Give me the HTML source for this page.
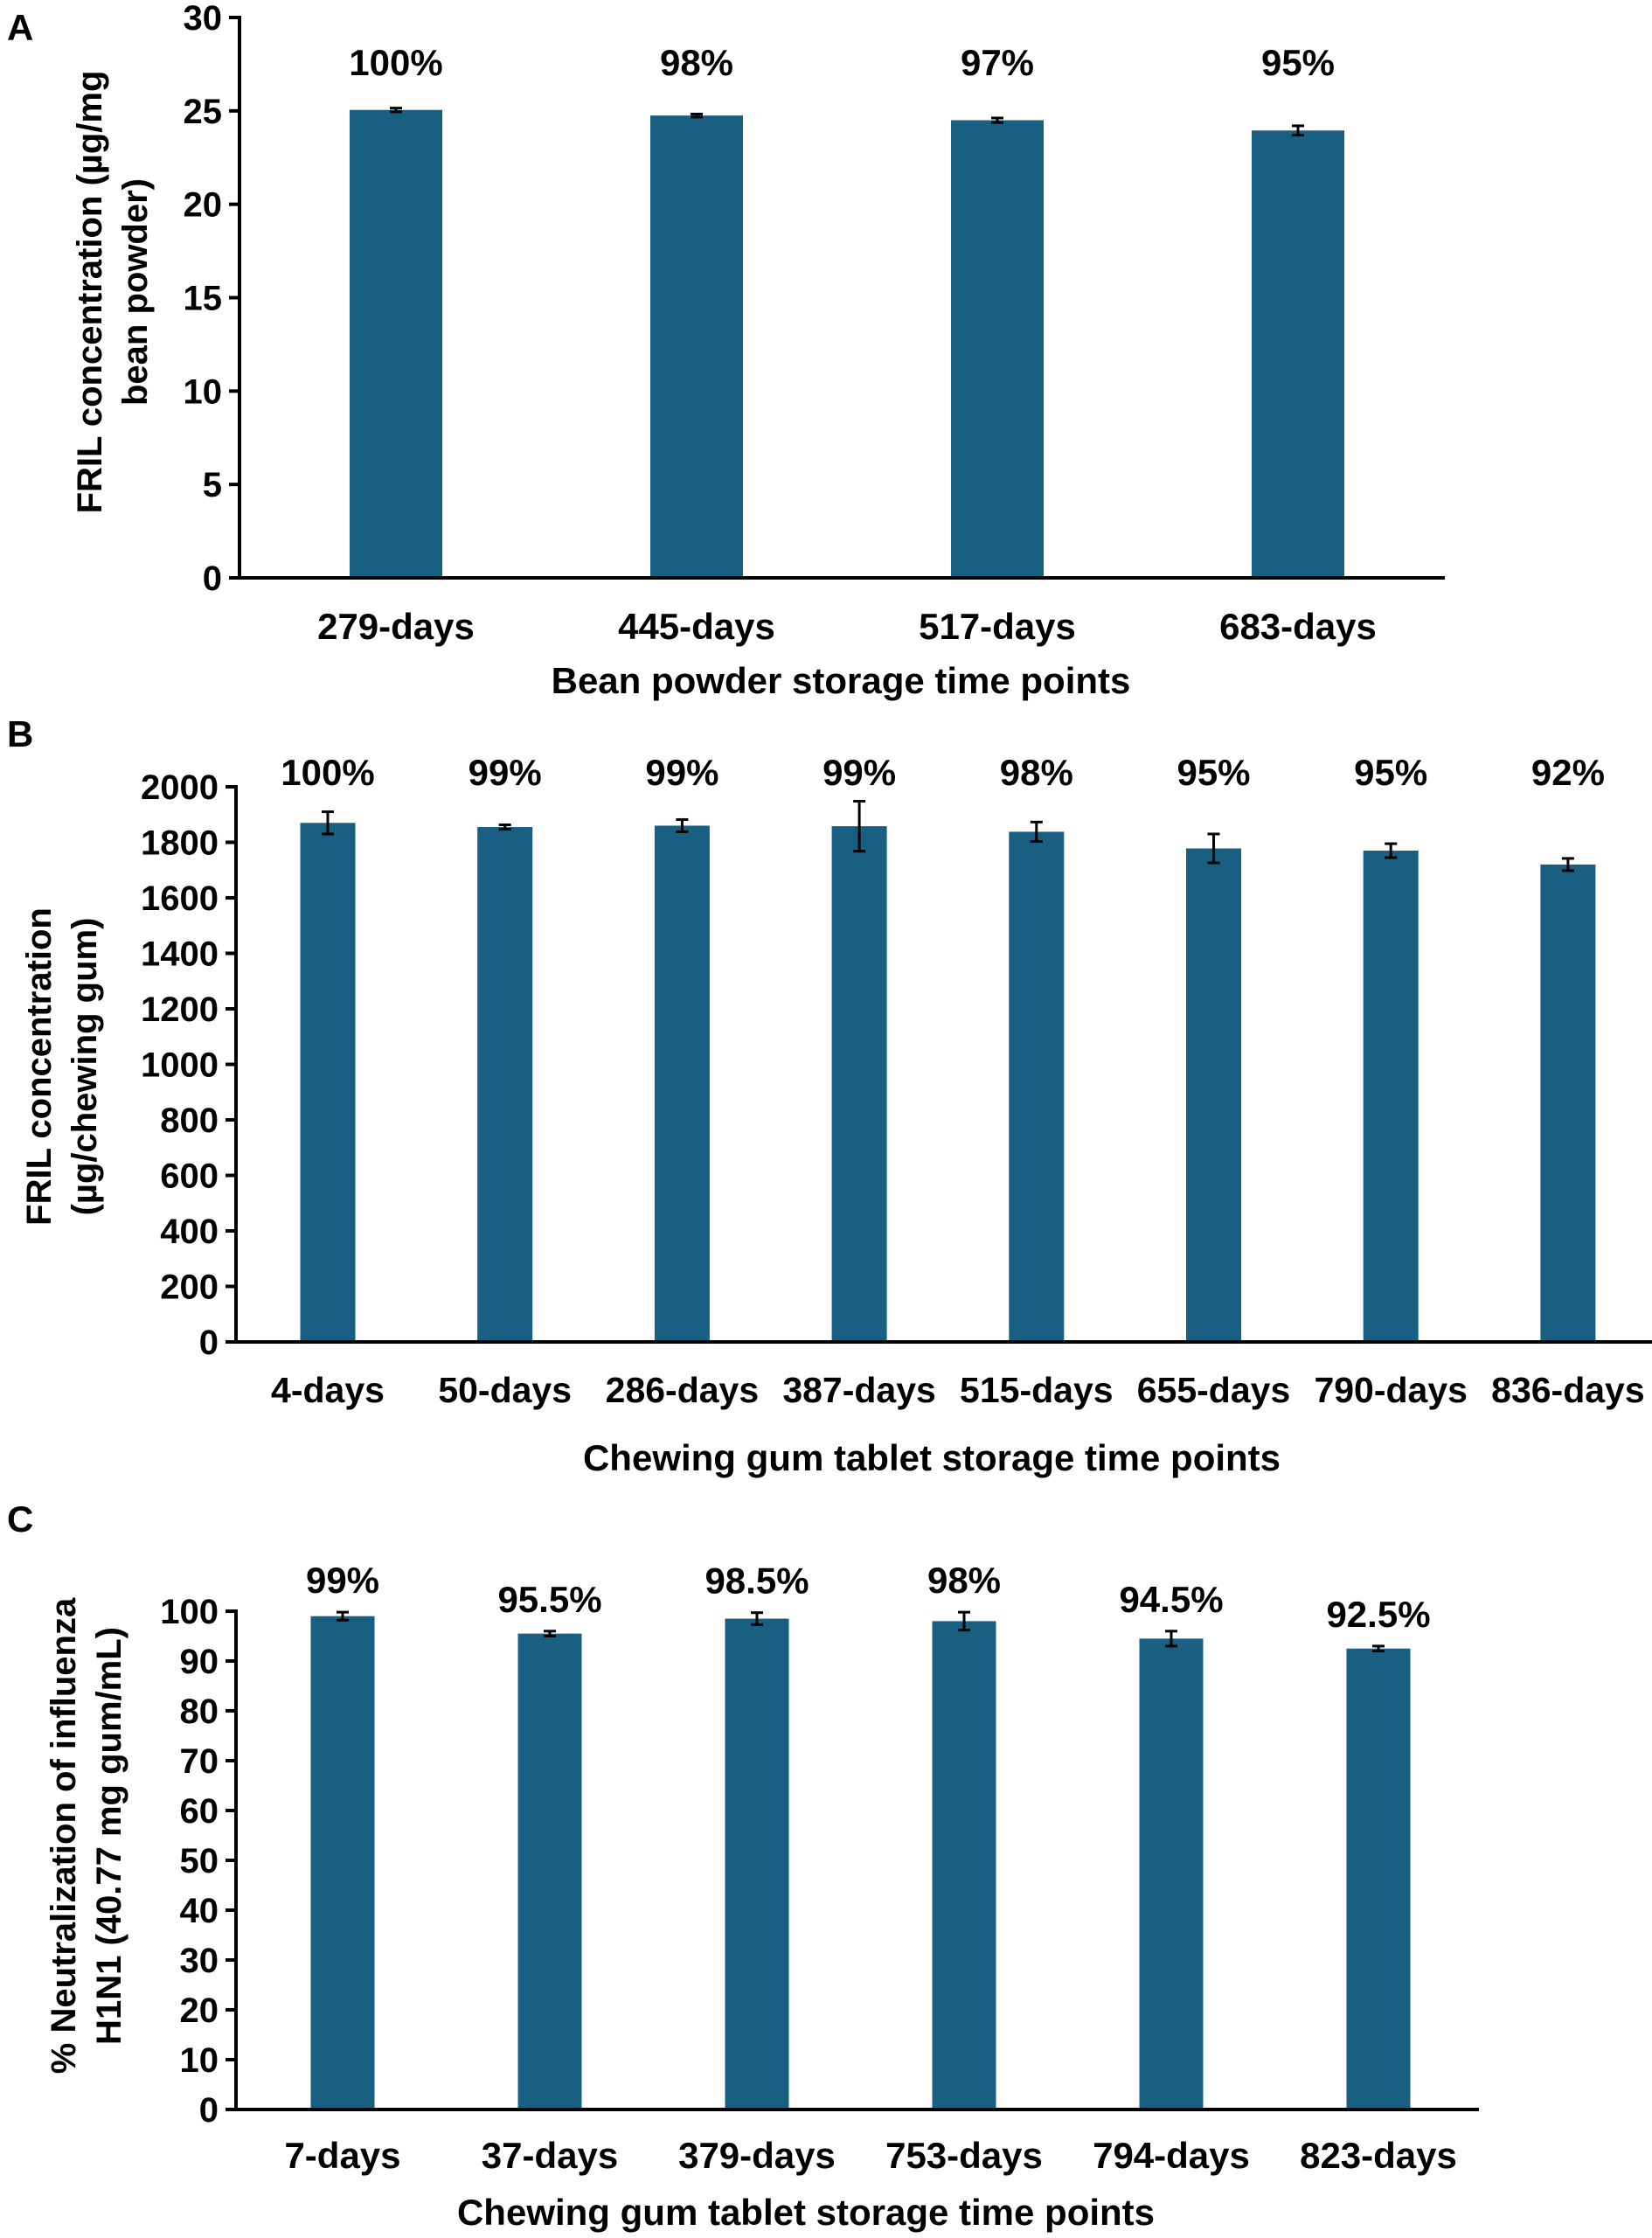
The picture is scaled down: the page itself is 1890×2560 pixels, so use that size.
<!DOCTYPE html>
<html><head><meta charset="utf-8"><style>
html,body{margin:0;padding:0;background:#fff;}
svg{display:block;font-family:"Liberation Sans",Arial,sans-serif;font-weight:bold;}
</style></head><body>
<svg id="fig" width="1890" height="2560" viewBox="0 0 1890 2560" xmlns="http://www.w3.org/2000/svg">
<text x="8" y="46" font-size="42">A</text>
<text x="8" y="854" font-size="42">B</text>
<text x="8" y="1752" font-size="42">C</text>
<g font-size="40" text-anchor="middle">
<text transform="translate(116,334) rotate(-90)">FRIL concentration (µg/mg</text>
<text transform="translate(168,334) rotate(-90)">bean powder)</text>
</g>
<g font-size="40" text-anchor="middle">
<text transform="translate(58,1220) rotate(-90)">FRIL concentration</text>
<text transform="translate(110,1220) rotate(-90)">(µg/chewing gum)</text>
</g>
<g font-size="40" text-anchor="middle">
<text transform="translate(86,2100) rotate(-90)">% Neutralization of influenza</text>
<text transform="translate(138,2100) rotate(-90)">H1N1 (40.77 mg gum/mL)</text>
</g>
<text x="962" y="793" font-size="42" text-anchor="middle">Bean powder storage time points</text>
<text x="1066" y="1682" font-size="42" text-anchor="middle">Chewing gum tablet storage time points</text>
<text x="922" y="2545" font-size="42" text-anchor="middle">Chewing gum tablet storage time points</text>
</svg>
<script>
// Panel A data
const aCategories = ["279-days","445-days","517-days","683-days"];
const aValues = [25.05, 24.75, 24.5, 23.95];
const aErrors = [0.1, 0.08, 0.12, 0.25];
const aLabels = ["100%","98%","97%","95%"];
const aTicks = [0,5,10,15,20,25,30];
// Panel B data
const bCategories = ["4-days","50-days","286-days","387-days","515-days","655-days","790-days","836-days"];
const bValues = [1870, 1855, 1860, 1858, 1838, 1778, 1770, 1720];
const bErrors = [40, 8, 22, 90, 35, 52, 25, 22];
const bLabels = ["100%","99%","99%","99%","98%","95%","95%","92%"];
const bTicks = [0,200,400,600,800,1000,1200,1400,1600,1800,2000];
// Panel C data
const cCategories = ["7-days","37-days","379-days","753-days","794-days","823-days"];
const cValues = [99, 95.5, 98.5, 98, 94.5, 92.5];
const cErrors = [0.8, 0.5, 1.2, 1.8, 1.5, 0.5];
const cLabels = ["99%","95.5%","98.5%","98%","94.5%","92.5%"];
const cTicks = [0,10,20,30,40,50,60,70,80,90,100];

const NS="http://www.w3.org/2000/svg";
const svg=document.getElementById('fig');
function mk(tag,attrs,parent){const e=document.createElementNS(NS,tag);for(const k in attrs)e.setAttribute(k,attrs[k]);(parent||svg).appendChild(e);return e;}

function panel(p,cfg,cats,vals,errs,labels,ticks){
  const g=mk('g',{});
  
  
  const max=ticks[ticks.length-1];
  const y=v=>cfg.y0-(cfg.y0-cfg.yTop)*v/max;
  const step=cfg.step;
  const x=i=>cfg.x0+i*step;
  // bars
  vals.forEach((v,i)=>{
    const r=mk('rect',{x:x(i)-cfg.bw/2,y:y(v),width:cfg.bw,height:cfg.y0-y(v),fill:'#185f82'},g);
    
    
    const eg=mk('g',{stroke:'#000','stroke-width':3},g);
    
    
    const t=y(v+errs[i]),b=y(v-errs[i]);
    mk('line',{x1:x(i),x2:x(i),y1:t,y2:b},eg);
    mk('line',{x1:x(i)-7,x2:x(i)+7,y1:t,y2:t},eg);
    mk('line',{x1:x(i)-7,x2:x(i)+7,y1:b,y2:b},eg);
    const ly=cfg.labelY!==null?cfg.labelY:y(v+errs[i])-22;
    const lt=mk('text',{x:x(i),y:ly,'font-size':42,'text-anchor':'middle'},g);
    lt.textContent=labels[i];
    
    
    const ct=mk('text',{x:x(i)+(cfg.catDx||0),y:cfg.catY,'font-size':cfg.catSize||42,'text-anchor':'middle'},g);
    ct.textContent=cats[i];
    
    
  });
  // axes
  const ax=mk('g',{stroke:'#000','stroke-width':4},g);
  
  
  mk('line',{x1:cfg.ax,x2:cfg.ax,y1:cfg.yTop-2,y2:cfg.y0+2},ax);
  mk('line',{x1:cfg.ax-12,x2:cfg.xEnd,y1:cfg.y0,y2:cfg.y0},ax);
  ticks.forEach(t=>{
    mk('line',{x1:cfg.ax-12,x2:cfg.ax,y1:y(t),y2:y(t)},ax);
    const tt=mk('text',{x:cfg.ax-20,y:y(t)+14,'font-size':40,'text-anchor':'end'},g);
    tt.textContent=t;
    
    
  });
}
panel('a',{ax:274,yTop:20,y0:661,x0:453,step:344,bw:106,xEnd:1653,labelY:86,catY:731},aCategories,aValues,aErrors,aLabels,aTicks);
panel('b',{ax:270,yTop:900,y0:1535,x0:375,step:202.7,bw:63,xEnd:1890,labelY:898,catY:1604,catSize:41},bCategories,bValues,bErrors,bLabels,bTicks);
panel('c',{ax:270,yTop:1843,y0:2413,x0:392,step:237,bw:73,xEnd:1692,labelY:null,catY:2480},cCategories,cValues,cErrors,cLabels,cTicks);
</script>
</body></html>
